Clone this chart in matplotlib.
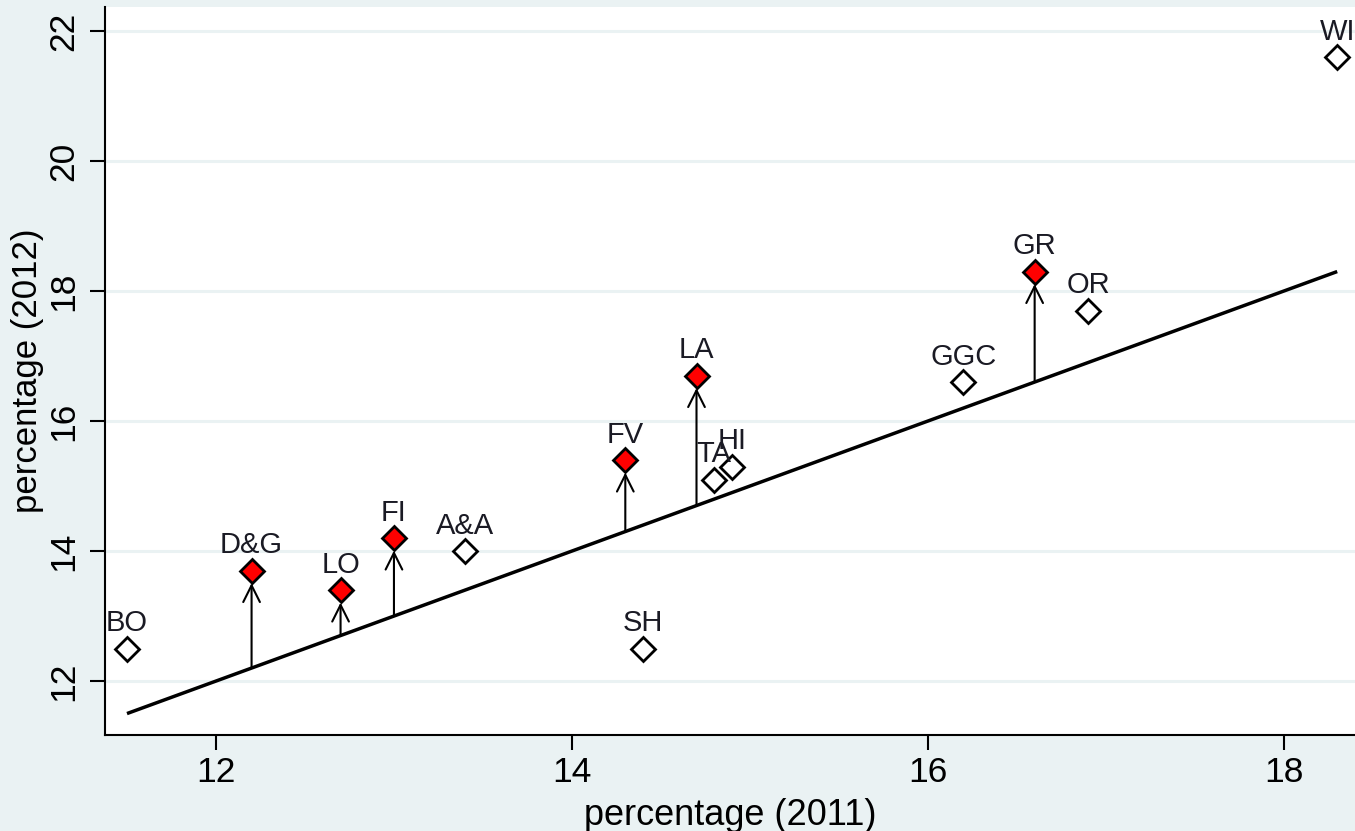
import matplotlib
matplotlib.use("Agg")
import matplotlib.pyplot as plt

plt.rcParams['font.family'] = ['Liberation Sans', 'DejaVu Sans']

# share of each area, 2011 vs 2012
areas = ["BO", "D&G", "LO", "FI", "A&A", "SH", "FV", "LA", "TA", "HI", "GGC", "GR", "OR", "WI"]
pct_2011 = [11.5, 12.2, 12.7, 13.0, 13.4, 14.4, 14.3, 14.7, 14.8, 14.9, 16.2, 16.6, 16.9, 18.3]
pct_2012 = [12.5, 13.7, 13.4, 14.2, 14.0, 12.5, 15.4, 16.7, 15.1, 15.3, 16.6, 18.3, 17.7, 21.6]
highlight = ["D&G", "LO", "FI", "FV", "LA", "GR"]

x_ticks = [12, 14, 16, 18]
y_ticks = [12, 14, 16, 18, 20, 22]

bg = '#eaf2f3'

fig = plt.figure(figsize=(13.55, 8.31), dpi=100, facecolor=bg)
ax = fig.add_axes([0.0773, 0.1155, 0.9227, 0.8761])
ax.set_facecolor('white')

ax.set_xlim(11.375, 18.40)
ax.set_ylim(11.17, 22.37)

for yv in y_ticks:
    ax.axhline(yv, color=bg, lw=2.2, zorder=0)

# equality line
lo, hi = min(pct_2011), max(pct_2011)
ax.plot([lo, hi], [lo, hi], color='black', lw=2.5, solid_capstyle='butt', zorder=2)

# arrows from the line up to the highlighted areas
for name, x, y in zip(areas, pct_2011, pct_2012):
    if name in highlight:
        ax.annotate('', xy=(x, y), xytext=(x, x),
                    arrowprops=dict(arrowstyle='->,head_length=0.6,head_width=0.3',
                                    mutation_scale=20, lw=1.5, color='black',
                                    shrinkA=0, shrinkB=9),
                    zorder=3)

for name, x, y in zip(areas, pct_2011, pct_2012):
    face = 'red' if name in highlight else 'white'
    ax.plot(x, y, marker='D', ms=12, mfc=face, mec='black', mew=2, zorder=4,
            clip_on=False)
    ax.annotate(name, (x, y), xytext=(0, 12.5), textcoords='offset points',
                ha='center', va='baseline', fontsize=21, color='#1a1a24',
                zorder=5, annotation_clip=False)

ax.set_xticks(x_ticks)
ax.set_yticks(y_ticks)
ax.tick_params(axis='both', labelsize=25.5, length=10.8, width=1.5, color='black')
ax.tick_params(axis='x', pad=4)
ax.tick_params(axis='y', pad=7)
for lab in ax.get_yticklabels():
    lab.set_rotation(90)
    lab.set_va('center')

for side in ['top', 'right']:
    ax.spines[side].set_visible(False)
for side in ['left', 'bottom']:
    ax.spines[side].set_linewidth(1.5)

ax.set_xlabel('percentage (2011)', fontsize=26)
ax.xaxis.set_label_coords(0.5, -0.124)
ax.xaxis.label.set_va('baseline')

ax.set_ylabel('percentage (2012)', fontsize=25)
ax.yaxis.label.set_rotation_mode('anchor')
ax.yaxis.label.set_ha('center')
ax.yaxis.label.set_va('baseline')
ax.yaxis.set_label_coords(-0.0545, 0.5)

fig.savefig('out.png', dpi=100, facecolor=bg)
